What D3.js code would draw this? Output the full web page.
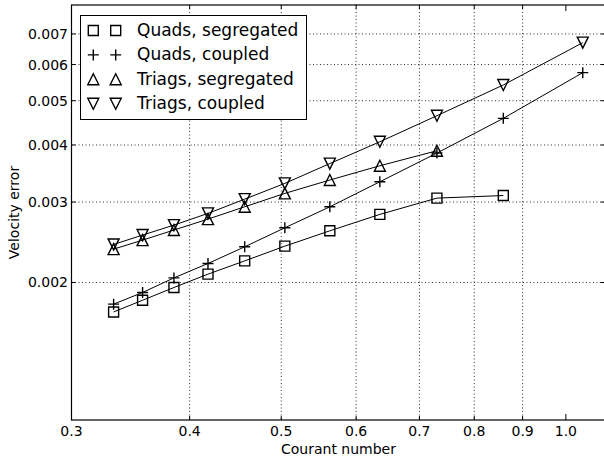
<!DOCTYPE html>
<html><head><meta charset="utf-8">
<script src="https://cdn.jsdelivr.net/npm/d3@7"></script>
<style>body{margin:0;background:#fff}svg{display:block;font-family:"DejaVu Sans",sans-serif}</style>
</head><body><svg id="c" width="604" height="457"></svg>
<script>
const courant = [0.3324, 0.3567, 0.385, 0.4183, 0.4574, 0.5044, 0.5628, 0.6357, 0.7305, 0.8587, 1.042];
const quadsSeg = [0.001724, 0.001829, 0.00195, 0.002086, 0.00223, 0.002402, 0.002595, 0.002819, 0.00306, 0.0031];
const quadsCoup = [0.001793, 0.001902, 0.002047, 0.002201, 0.002394, 0.002635, 0.002929, 0.003323, 0.00384, 0.004575, 0.005759];
const triSeg = [0.002366, 0.002476, 0.002605, 0.002753, 0.002929, 0.003134, 0.003352, 0.003602, 0.003885];
const triCoup = [0.002423, 0.00254, 0.002671, 0.002833, 0.003044, 0.003296, 0.003642, 0.004065, 0.004636, 0.005412, 0.006699];
const seriesNames = ["Quads, segregated", "Quads, coupled", "Triags, segregated", "Triags, coupled"];
const markerTypes = ["square", "plus", "triUp", "triDown"];
const xTicks = [0.3, 0.4, 0.5, 0.6, 0.7, 0.8, 0.9, 1.0];
const xTickLabels = ["0.3", "0.4", "0.5", "0.6", "0.7", "0.8", "0.9", "1.0"];
const xGrid = [0.4, 0.5, 0.6, 0.7, 0.8, 0.9];
const yTicks = [0.002, 0.003, 0.004, 0.005, 0.006, 0.007];
const yTickLabels = ["0.002", "0.003", "0.004", "0.005", "0.006", "0.007"];

const svg = d3.select("#c");
const L = 71.5, R = 605, T = 5, B = 420;
const x = d3.scaleLog().domain([0.3, 1.1]).range([L, R]);
const y = d3.scaleLog().domain([0.001, 0.0081]).range([B, T]);

const allSeries = [quadsSeg, quadsCoup, triSeg, triCoup];

function markerPath(type, cx, cy) {
  const p = d3.path();
  if (type === "square") { const h = 5; p.rect(cx - h, cy - h, 2 * h, 2 * h); }
  else if (type === "plus") { const h = 5.5; p.moveTo(cx - h, cy); p.lineTo(cx + h, cy); p.moveTo(cx, cy - h); p.lineTo(cx, cy + h); }
  else if (type === "triUp") { const h = 5.5; p.moveTo(cx, cy - h); p.lineTo(cx + h, cy + h); p.lineTo(cx - h, cy + h); p.closePath(); }
  else { const h = 5.5; p.moveTo(cx, cy + h); p.lineTo(cx + h, cy - h); p.lineTo(cx - h, cy - h); p.closePath(); }
  return p.toString();
}

// grid
const grid = svg.append("g").attr("stroke", "#000").attr("stroke-width", 0.8).attr("stroke-dasharray", "1,2.5");
grid.selectAll(".gx").data(xGrid).join("line").attr("x1", d => x(d)).attr("x2", d => x(d)).attr("y1", T).attr("y2", B);
grid.selectAll(".gy").data(yTicks).join("line").attr("x1", L).attr("x2", R).attr("y1", d => y(d)).attr("y2", d => y(d));

// lines and markers
const line = d3.line().x(d => x(d[0])).y(d => y(d[1]));
allSeries.forEach((vals, i) => {
  const pts = vals.map((v, j) => [courant[j], v]);
  svg.append("path").attr("d", line(pts)).attr("fill", "none").attr("stroke", "#000").attr("stroke-width", 1);
  svg.append("g").selectAll("path").data(pts).join("path")
    .attr("d", d => markerPath(markerTypes[i], x(d[0]), y(d[1])))
    .attr("fill", "none").attr("stroke", "#000").attr("stroke-width", 1.4);
});

// axes frame
svg.append("rect").attr("x", L).attr("y", T).attr("width", R - L).attr("height", B - T)
  .attr("fill", "none").attr("stroke", "#000").attr("stroke-width", 1.2);

// ticks
const tk = svg.append("g").attr("stroke", "#000").attr("stroke-width", 1);
xTicks.forEach(t => {
  const len = t === 1.0 ? 6 : 4;
  tk.append("line").attr("x1", x(t)).attr("x2", x(t)).attr("y1", B).attr("y2", B - len);
  tk.append("line").attr("x1", x(t)).attr("x2", x(t)).attr("y1", T).attr("y2", T + len);
});
yTicks.forEach(t => {
  tk.append("line").attr("x1", L).attr("x2", L + 4).attr("y1", y(t)).attr("y2", y(t));
  tk.append("line").attr("x1", R).attr("x2", R - 4).attr("y1", y(t)).attr("y2", y(t));
});

// tick labels
svg.append("g").selectAll("text").data(xTicks).join("text")
  .attr("x", d => x(d)).attr("y", 436).attr("text-anchor", "middle").attr("font-size", 14)
  .text((d, i) => xTickLabels[i]);
svg.append("g").selectAll("text").data(yTicks).join("text")
  .attr("x", 68).attr("y", d => y(d) + 5).attr("text-anchor", "end").attr("font-size", 14)
  .text((d, i) => yTickLabels[i]);

svg.append("text").attr("x", 338.5).attr("y", 453.5).attr("text-anchor", "middle").attr("font-size", 14).text("Courant number");
svg.append("text").attr("transform", "translate(19,212.5) rotate(-90)").attr("text-anchor", "middle").attr("font-size", 14).text("Velocity error");

// legend
const lg = svg.append("g");
lg.append("rect").attr("x", 80.5).attr("y", 15.5).attr("width", 226).attr("height", 104)
  .attr("fill", "#fff").attr("stroke", "#000").attr("stroke-width", 1);
seriesNames.forEach((name, i) => {
  const base = 36 + i * 24.4;
  const cy = base - 5.5;
  [93.3, 115.7].forEach(cx => {
    lg.append("path").attr("d", markerPath(markerTypes[i], cx, cy)).attr("fill", "none").attr("stroke", "#000").attr("stroke-width", 1.4);
  });
  lg.append("text").attr("x", 137).attr("y", base).attr("font-size", 17).text(name);
});
</script></body></html>
